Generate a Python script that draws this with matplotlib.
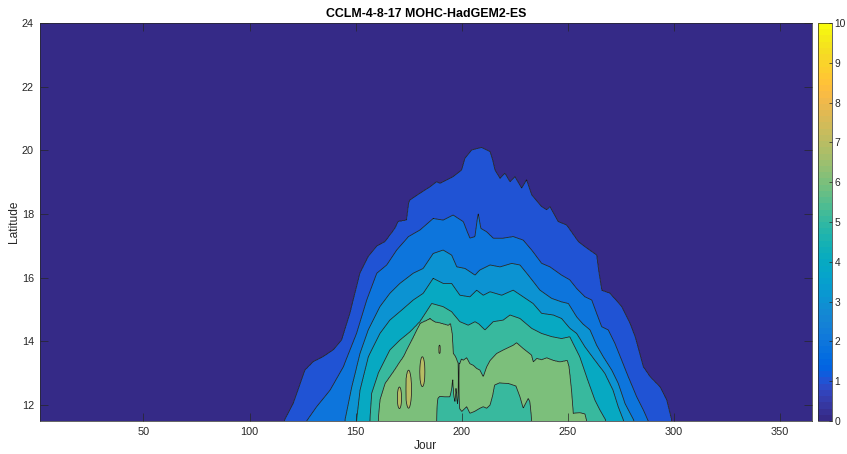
import numpy as np
import matplotlib
matplotlib.use("Agg")
import matplotlib.pyplot as plt
from matplotlib.colors import ListedColormap, Normalize
from matplotlib.cm import ScalarMappable

# ---------------- text / ticks ----------------
title = "CCLM-4-8-17 MOHC-HadGEM2-ES"
xlabel = "Jour"
ylabel = "Latitude"
x_ticks = [50, 100, 150, 200, 250, 300, 350]
y_ticks = [12, 14, 16, 18, 20, 22, 24]
cbar_ticks = [0, 1, 2, 3, 4, 5, 6, 7, 8, 9, 10]
levels = [0, 1, 2, 3, 4, 5, 6, 7, 8, 9, 10]
x_range = [1, 365]
y_range = [11.5, 24]

# ---------------- contour boundaries ----------------
# top latitude of the region >= k, as a function of day
c1_day = [116.3, 120.6, 123.5, 126.1, 130.0, 134.7, 139.4, 143.4, 147.3, 150.0, 152.0, 155.9,
          159.9, 163.8, 168.5, 170.0, 174.0, 175.0, 175.6, 180.3, 185.0, 188.1, 189.7, 195.9,
          199.9, 201.5, 204.6, 209.3, 213.3, 214.5, 215.6, 218.0, 220.3, 222.7, 225.0, 228.2,
          230.5, 232.9, 237.6, 240.0, 241.5, 245.4, 249.4, 254.9, 258.0, 263.5, 264.5, 265.9,
          269.8, 275.3, 279.2, 281.6, 285.5, 288.7, 293.4, 296.5, 298.9]
c1_lat = [11.5, 12.05, 12.6, 13.10, 13.36, 13.52, 13.73, 14.04, 14.88, 15.6, 16.14, 16.66,
          16.99, 17.13, 17.55, 17.76, 17.81, 18.35, 18.44, 18.65, 18.85, 19.01, 18.96, 19.17,
          19.38, 19.75, 20.01, 20.09, 19.96, 19.7, 19.38, 19.12, 19.28, 19.01, 19.17, 18.81,
          19.07, 18.60, 18.23, 18.13, 18.23, 17.76, 17.65, 17.13, 16.97, 16.71, 16.2, 15.60,
          15.51, 15.09, 14.57, 14.15, 13.2, 12.89, 12.57, 12.16, 11.5]

c2_day = [126.9, 131.6, 137.9, 144.1, 150.4, 155.2, 159.9, 164.6, 169.3, 174.8, 180.3, 186.5,
          191.2, 195.9, 200.7, 202.5, 203.8, 206.2, 207.2, 207.7, 208.3, 208.9, 211.7, 214.8,
          219.5, 224.2, 228.9, 232.9, 237.6, 241.5, 247.0, 250.9, 254.1, 258.0, 261.2, 263.5,
          265.9, 269.0, 272.1, 275.3, 278.4, 282.4, 285.5, 287.8]
c2_lat = [11.5, 11.95, 12.47, 13.20, 14.25, 15.30, 16.14, 16.40, 16.87, 17.29, 17.50, 17.86,
          17.81, 17.97, 17.76, 17.45, 17.24, 17.29, 17.8, 18.02, 17.8, 17.55, 17.44, 17.24,
          17.24, 17.29, 17.18, 16.87, 16.45, 16.34, 16.08, 15.93, 15.66, 15.40, 15.30, 14.88,
          14.46, 14.36, 13.94, 13.41, 12.89, 12.26, 11.85, 11.5]

c3_day = [144.9, 148.1, 152.0, 155.9, 161.4, 166.1, 170.8, 177.1, 181.8, 186.5, 191.2, 195.2,
          197.6, 201.5, 203.8, 206.2, 208.5, 213.3, 218.0, 223.5, 227.4, 231.3, 236.8, 242.3,
          247.0, 250.2, 254.1, 257.0, 260.4, 263.5, 266.6, 270.6, 273.7, 276.9, 281.2]
c3_lat = [11.5, 12.57, 13.62, 14.36, 15.09, 15.51, 15.82, 16.14, 16.29, 16.76, 16.87, 16.71,
          16.34, 16.29, 16.19, 16.08, 16.24, 16.40, 16.34, 16.45, 16.40, 16.08, 15.61, 15.35,
          15.24, 15.19, 14.77, 14.55, 14.36, 13.88, 13.52, 13.1, 12.68, 12.05, 11.5]

c4_day = [150.4, 152.0, 155.9, 161.4, 166.1, 171.6, 177.1, 181.8, 186.5, 191.2, 195.2, 199.1,
          203.8, 207.0, 210.1, 213.3, 218.8, 224.2, 228.9, 233.6, 237.6, 243.1, 247.0, 250.9,
          254.1, 258.0, 262.7, 267.4, 271.3, 273.7, 276.3]
c4_lat = [11.5, 12.47, 13.52, 14.25, 14.67, 14.98, 15.30, 15.51, 15.98, 15.82, 15.82, 15.45,
          15.40, 15.61, 15.45, 15.56, 15.45, 15.61, 15.40, 15.19, 14.88, 14.83, 14.72, 14.41,
          14.25, 13.83, 13.41, 13.0, 12.47, 11.95, 11.5]

c5_day = [156.7, 157.5, 160.6, 166.1, 170.8, 175.6, 180.3, 185.8, 191.2, 195.2, 199.1, 203.0,
          206.2, 208.0, 210.9, 214.8, 219.5, 222.7, 227.4, 232.9, 237.6, 242.3, 247.0, 250.9,
          252.0, 255.6, 258.8, 262.7, 265.1, 268.0]
c5_lat = [11.5, 12.37, 13.0, 13.73, 14.04, 14.30, 14.62, 15.19, 15.09, 14.93, 14.62, 14.51,
          14.62, 14.55, 14.36, 14.62, 14.67, 14.83, 14.72, 14.41, 14.25, 14.15, 14.09, 14.15,
          14.0, 13.52, 12.89, 12.16, 11.84, 11.5]

c6_day = [160.6, 161.4, 163.8, 167.7, 172.4, 175.6, 178.7, 180.3, 185.0, 187.3, 190.5, 193.6,
          194.7, 195.5, 196.0, 196.8, 197.5, 198.0, 199.0, 199.8, 200.7, 202.3, 203.8, 205.4,
          207.0, 208.5, 210.1, 211.7, 213.3, 216.4, 219.5, 224.2, 225.8, 228.9, 232.9, 233.7,
          235.3, 237.6, 240.0, 243.1, 246.2, 249.7, 250.6, 251.7, 252.5, 255.6, 258.0, 258.8]
c6_lat = [11.5, 12.16, 12.68, 13.05, 13.52, 13.94, 14.36, 14.57, 14.72, 14.62, 14.57, 14.51,
          14.57, 14.25, 13.62, 13.55, 13.45, 13.35, 13.3, 13.45, 13.41, 13.49, 13.3, 13.25,
          13.15, 13.1, 12.89, 13.2, 13.4, 13.62, 13.73, 13.88, 13.96, 13.78, 13.57, 13.36,
          13.47, 13.43, 13.49, 13.41, 13.36, 13.41, 13.2, 12.47, 11.74, 11.76, 11.72, 11.5]

# lower region (< 6) rising from the bottom inside the >= 6 area
hole_day = [188.0, 188.6, 189.5, 192.0, 194.4, 195.2, 195.7, 196.2, 196.8, 197.3, 197.8, 198.2,
            198.5, 198.8, 200.0, 202.3, 203.8, 206.0, 208.5, 210.1, 211.7, 213.3, 214.5, 215.4,
            217.7, 222.0, 224.2, 225.5, 227.4, 228.9, 231.3, 232.1, 232.9]
hole_lat = [11.5, 12.2, 12.27, 12.26, 12.26, 12.5, 12.85, 12.3, 12.1, 12.57, 12.1, 12.0,
            14.0, 11.9, 11.8, 11.95, 11.74, 11.8, 11.9, 11.95, 11.9, 12.0, 12.3, 12.63,
            12.7, 12.68, 12.63, 12.6, 12.26, 11.9, 12.21, 12.1, 11.5]

# small islands >= 7 (centre day, centre latitude, half width in days, half height in degrees)
isl_day = [170.6, 174.9, 181.4, 189.5]
isl_lat = [12.23, 12.5, 13.05, 13.75]
isl_dw = [1.0, 1.4, 1.2, 0.45]
isl_dl = [0.34, 0.6, 0.47, 0.13]

# ---------------- MATLAB parula (64) ----------------
parula = np.array([
    [0.2081, 0.1663, 0.5292], [0.2116, 0.1898, 0.5777], [0.2123, 0.2138, 0.6270], [0.2081, 0.2386, 0.6771],
    [0.1959, 0.2645, 0.7279], [0.1707, 0.2919, 0.7792], [0.1253, 0.3242, 0.8303], [0.0591, 0.3598, 0.8683],
    [0.0117, 0.3875, 0.8820], [0.0060, 0.4086, 0.8828], [0.0165, 0.4266, 0.8786], [0.0329, 0.4430, 0.8720],
    [0.0498, 0.4586, 0.8641], [0.0629, 0.4737, 0.8554], [0.0723, 0.4887, 0.8467], [0.0779, 0.5040, 0.8384],
    [0.0793, 0.5200, 0.8312], [0.0749, 0.5375, 0.8263], [0.0641, 0.5570, 0.8240], [0.0488, 0.5772, 0.8228],
    [0.0343, 0.5966, 0.8199], [0.0265, 0.6137, 0.8135], [0.0239, 0.6287, 0.8038], [0.0231, 0.6418, 0.7913],
    [0.0228, 0.6535, 0.7768], [0.0267, 0.6642, 0.7607], [0.0384, 0.6743, 0.7436], [0.0590, 0.6838, 0.7254],
    [0.0843, 0.6928, 0.7062], [0.1133, 0.7015, 0.6859], [0.1453, 0.7098, 0.6646], [0.1801, 0.7177, 0.6424],
    [0.2178, 0.7250, 0.6193], [0.2586, 0.7317, 0.5954], [0.3022, 0.7376, 0.5712], [0.3482, 0.7424, 0.5473],
    [0.3953, 0.7459, 0.5244], [0.4420, 0.7481, 0.5033], [0.4871, 0.7491, 0.4840], [0.5300, 0.7491, 0.4661],
    [0.5709, 0.7485, 0.4494], [0.6099, 0.7473, 0.4337], [0.6473, 0.7456, 0.4188], [0.6834, 0.7435, 0.4044],
    [0.7184, 0.7411, 0.3905], [0.7525, 0.7384, 0.3768], [0.7858, 0.7356, 0.3633], [0.8185, 0.7327, 0.3498],
    [0.8507, 0.7299, 0.3360], [0.8824, 0.7274, 0.3217], [0.9139, 0.7258, 0.3063], [0.9450, 0.7261, 0.2886],
    [0.9739, 0.7314, 0.2666], [0.9938, 0.7455, 0.2403], [0.9990, 0.7653, 0.2164], [0.9955, 0.7861, 0.1967],
    [0.9880, 0.8066, 0.1794], [0.9789, 0.8271, 0.1633], [0.9697, 0.8481, 0.1475], [0.9626, 0.8705, 0.1309],
    [0.9589, 0.8949, 0.1132], [0.9598, 0.9218, 0.0948], [0.9661, 0.9514, 0.0755], [0.9763, 0.9831, 0.0538]])
cmap64 = ListedColormap(parula)
band_colors = [parula[int(v / 10.0 * 64)] for v in levels[:-1]]

# ---------------- build the field on a grid ----------------
D = np.arange(1, 365.001, 0.25)
L = np.arange(11.5, 24.0001, 0.02)
Z = np.empty((len(L), len(D)))
tops = [(c1_day, c1_lat), (c2_day, c2_lat), (c3_day, c3_lat), (c4_day, c4_lat), (c5_day, c5_lat)]
nan = np.nan
for j, d in enumerate(D):
    pts = [(24.3, 0.2)]
    n = 0
    prev = 24.3
    for k, (dd, ll) in enumerate(tops, start=1):
        t = np.interp(d, dd, ll, left=nan, right=nan)
        if np.isnan(t) or t <= 11.5:
            break
        t = min(t, prev - 0.02)
        pts.append((t, k))
        n = k
        prev = t
    t6 = np.interp(d, c6_day, c6_lat, left=nan, right=nan)
    h = np.interp(d, hole_day, hole_lat, left=nan, right=nan)
    has_hole = (not np.isnan(h)) and h > 11.5
    green = n == 5 and (not np.isnan(t6)) and t6 > 11.5 and (not has_hole or h < t6 - 0.02)
    if green:
        t6 = min(t6, prev - 0.02)
        pts.append((t6, 6))
        isl = []
        for c, cl, w, hl in zip(isl_day, isl_lat, isl_dw, isl_dl):
            r = (d - c) / w
            if abs(r) < 1:
                hh = hl * np.sqrt(1 - r * r)
                if hh > 0.01:
                    isl += [(cl + hh, 7), (cl, 7.3), (cl - hh, 7)]
        pts += isl
        if has_hole:
            if not isl:
                pts.append(((t6 + h) / 2, 6.5))
            pts.append((h, 6))
            pts.append((11.3, 5.5))
        else:
            pts.append((11.3, 6.5))
    else:
        pts.append((11.3, n + 0.5))
    pts.sort()
    la = np.array([p[0] for p in pts])
    va = np.array([p[1] for p in pts])
    Z[:, j] = np.interp(L, la, va)

# ---------------- draw ----------------
plt.rcParams['font.family'] = ['Liberation Sans', 'DejaVu Sans']
fig = plt.figure(figsize=(8.47, 4.54), dpi=100)
ax = fig.add_axes([39.5 / 847, 33 / 454, 772.5 / 847, 398 / 454])
ax.contourf(D, L, Z, levels=levels, colors=band_colors, antialiased=True)
ax.contour(D, L, Z, levels=levels[1:8], colors='#1a1a1a', linewidths=0.55)
ax.set_xlim(x_range)
ax.set_ylim(y_range)
ax.set_xticks(x_ticks)
ax.set_yticks(y_ticks)
axc = '#262626'
ax.tick_params(direction='in', length=5.6, width=0.5, colors=axc, labelsize=7.8,
               top=True, right=True, pad=4)
for s in ax.spines.values():
    s.set_color(axc)
    s.set_linewidth(0.5)
ax.set_title(title, fontsize=8.9, fontweight='bold', color='black', pad=4)
ax.set_xlabel(xlabel, fontsize=8.6, color=axc, va='center')
ax.set_ylabel(ylabel, fontsize=8.6, color=axc, va='center')
ax.xaxis.set_label_coords(0.5, -25 / 398)
ax.yaxis.set_label_coords(-25.5 / 772.5, 0.5)

cax = fig.add_axes([818.3 / 847, 33 / 454, 14 / 847, 398 / 454])
sm = ScalarMappable(norm=Normalize(0, 10), cmap=cmap64)
cb = fig.colorbar(sm, cax=cax, ticks=cbar_ticks)
cb.outline.set_edgecolor(axc)
cb.outline.set_linewidth(0.5)
cax.tick_params(direction='in', length=2.5, width=0.5, colors=axc, labelsize=7.4, pad=1.5)

fig.savefig("out.png", dpi=100)
